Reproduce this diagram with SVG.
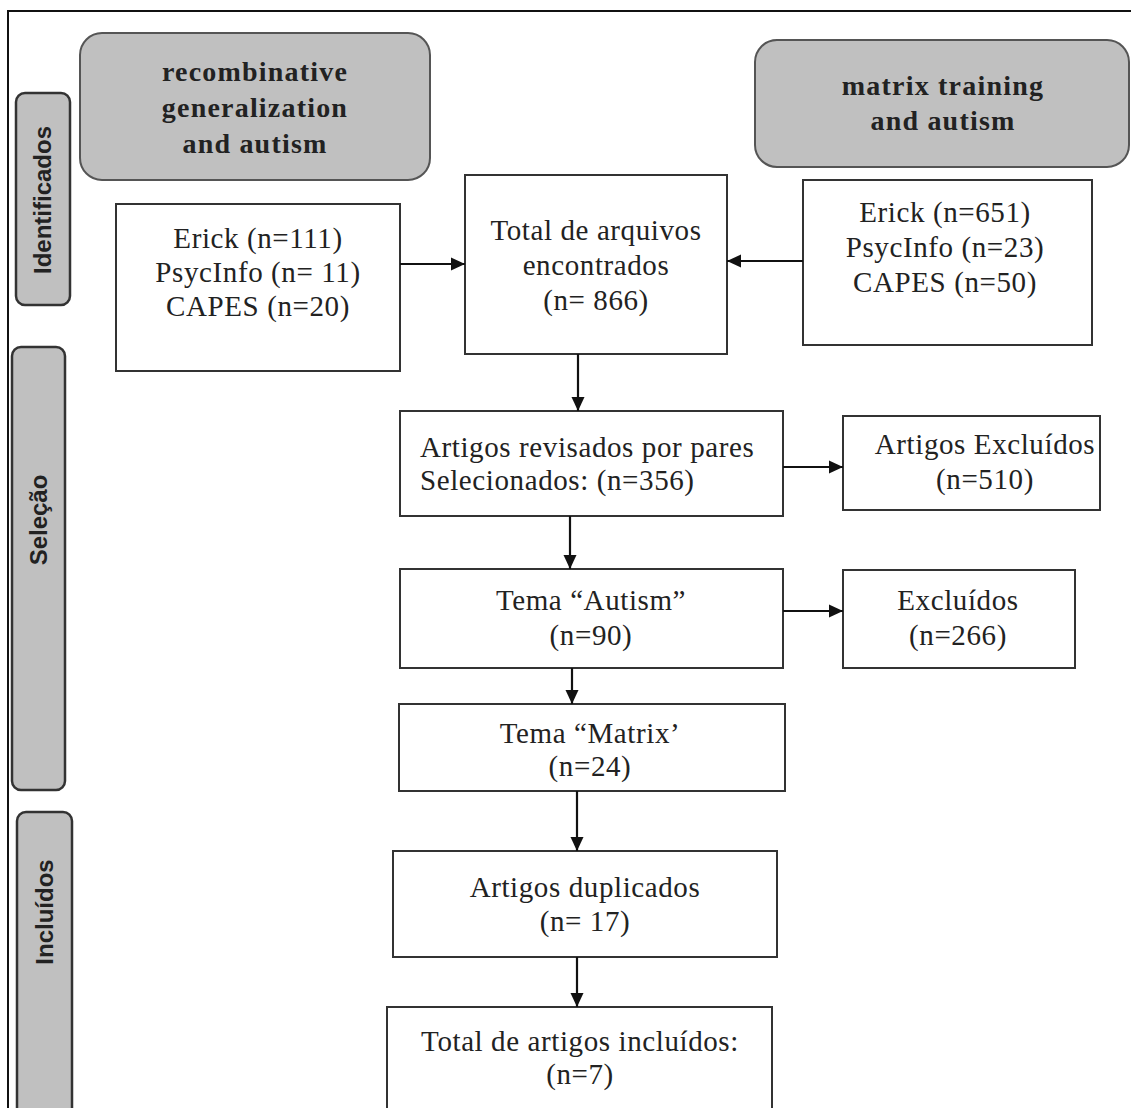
<svg xmlns="http://www.w3.org/2000/svg" width="1131" height="1108" viewBox="0 0 1131 1108">
<style>
.box{fill:#fff;stroke:#333;stroke-width:2}
.hdr{fill:#c0c0c0;stroke:#555;stroke-width:2}
.side{fill:#c0c0c0;stroke:#333;stroke-width:2.5}
.t{font-family:"Liberation Serif","Times New Roman",serif;font-size:29px;letter-spacing:0.6px;fill:#222;text-anchor:middle}
.hb{font-family:"Liberation Serif","Times New Roman",serif;font-size:28px;font-weight:bold;letter-spacing:1.2px;fill:#222;text-anchor:middle}
.sl{font-family:"Liberation Sans",Arial,sans-serif;font-size:24px;font-weight:bold;fill:#222;text-anchor:middle}
.c{stroke:#111;stroke-width:2.2;fill:none;marker-end:url(#ah)}
</style>
<defs>
<marker id="ah" markerUnits="userSpaceOnUse" markerWidth="16" markerHeight="16" refX="14" refY="8" orient="auto">
<path d="M0,1.5 L14,8 L0,14.5 z" fill="#111"/>
</marker>
</defs>
<rect x="0" y="0" width="1131" height="1108" fill="#fff"/>
<g id="frame">
<line x1="8" y1="11" x2="1131" y2="11" stroke="#111" stroke-width="2"/>
<line x1="8" y1="10" x2="8" y2="1108" stroke="#111" stroke-width="2"/>
</g>
<g id="side-identificados">
<rect class="side" x="16" y="93" width="54" height="212" rx="9"/>
<text class="sl" transform="translate(51,200) rotate(-90)">Identificados</text>
</g>
<g id="side-selecao">
<rect class="side" x="12" y="347" width="53" height="443" rx="9"/>
<text class="sl" transform="translate(47,520) rotate(-90)">Seleção</text>
</g>
<g id="side-incluidos">
<rect class="side" x="17" y="812" width="55" height="310" rx="9"/>
<text class="sl" transform="translate(53,912) rotate(-90)">Incluídos</text>
</g>
<g id="hdr-recomb">
<rect class="hdr" x="80" y="33" width="350" height="147" rx="22"/>
<text class="hb" x="255" y="81">recombinative</text>
<text class="hb" x="255" y="117">generalization</text>
<text class="hb" x="255" y="153">and autism</text>
</g>
<g id="hdr-matrix">
<rect class="hdr" x="755" y="40" width="374" height="127" rx="22"/>
<text class="hb" x="943" y="95">matrix training</text>
<text class="hb" x="943" y="130">and  autism</text>
</g>
<g id="n-erick111">
<rect class="box" x="116" y="204" width="284" height="167"/>
<text class="t" x="258" y="248">Erick (n=111)</text>
<text class="t" x="258" y="282">PsycInfo (n= 11)</text>
<text class="t" x="258" y="316">CAPES (n=20)</text>
</g>
<g id="n-total">
<rect class="box" x="465" y="175" width="262" height="179"/>
<text class="t" x="596" y="240">Total de arquivos</text>
<text class="t" x="596" y="275">encontrados</text>
<text class="t" x="596" y="310">(n= 866)</text>
</g>
<g id="n-erick651">
<rect class="box" x="803" y="180" width="289" height="165"/>
<text class="t" x="945" y="222">Erick (n=651)</text>
<text class="t" x="945" y="257">PsycInfo (n=23)</text>
<text class="t" x="945" y="292">CAPES (n=50)</text>
</g>
<g id="n-revisados">
<rect class="box" x="400" y="411" width="383" height="105"/>
<text class="t" x="420" y="457" style="text-anchor:start">Artigos revisados por pares</text>
<text class="t" x="420" y="490" style="text-anchor:start">Selecionados: (n=356)</text>
</g>
<g id="n-excl510">
<rect class="box" x="843" y="416" width="257" height="94"/>
<text class="t" x="985" y="454">Artigos Excluídos</text>
<text class="t" x="985" y="489">(n=510)</text>
</g>
<g id="n-autism">
<rect class="box" x="400" y="569" width="383" height="99"/>
<text class="t" x="591" y="610">Tema “Autism”</text>
<text class="t" x="591" y="645">(n=90)</text>
</g>
<g id="n-excl266">
<rect class="box" x="843" y="570" width="232" height="98"/>
<text class="t" x="958" y="610">Excluídos</text>
<text class="t" x="958" y="645">(n=266)</text>
</g>
<g id="n-matrix">
<rect class="box" x="399" y="704" width="386" height="87"/>
<text class="t" x="590" y="743">Tema “Matrix’</text>
<text class="t" x="590" y="776">(n=24)</text>
</g>
<g id="n-dup">
<rect class="box" x="393" y="851" width="384" height="106"/>
<text class="t" x="585" y="897">Artigos duplicados</text>
<text class="t" x="585" y="931">(n= 17)</text>
</g>
<g id="n-final">
<rect class="box" x="387" y="1007" width="385" height="115"/>
<text class="t" x="580" y="1051">Total de artigos incluídos:</text>
<text class="t" x="580" y="1084">(n=7)</text>
</g>
<g id="connectors">
<line class="c" x1="400" y1="264" x2="465" y2="264"/>
<line class="c" x1="803" y1="261" x2="727" y2="261"/>
<line class="c" x1="578" y1="354" x2="578" y2="411"/>
<line class="c" x1="783" y1="467" x2="843" y2="467"/>
<line class="c" x1="570" y1="516" x2="570" y2="569"/>
<line class="c" x1="783" y1="611" x2="843" y2="611"/>
<line class="c" x1="572" y1="668" x2="572" y2="704"/>
<line class="c" x1="577" y1="791" x2="577" y2="851"/>
<line class="c" x1="577" y1="957" x2="577" y2="1007"/>
</g>
</svg>
